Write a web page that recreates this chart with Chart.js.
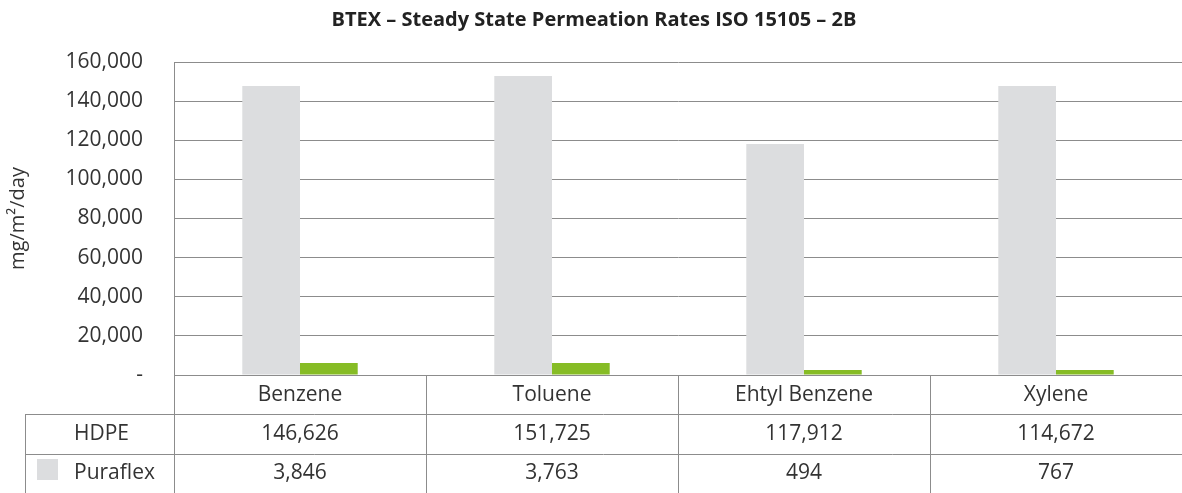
<!DOCTYPE html>
<html>
<head>
<meta charset="utf-8">
<script src="https://cdn.jsdelivr.net/npm/chart.js@4.4.0/dist/chart.umd.min.js"></script>
<style>
    html, body { margin: 0; padding: 0; background: #ffffff; }
    canvas { display: block; }
</style>
</head>
<body>
<canvas id="chart-btex" width="1182" height="493"></canvas>
<script>
// Datos
const categories     = ['Benzene', 'Toluene', 'Ehtyl Benzene', 'Xylene'];
const seriesNames    = ['HDPE', 'Puraflex'];
const hdpeValues     = [147700, 152800, 118100, 147700];
const puraflexValues = [6100, 6100, 2600, 2600];
// Textos de la tabla de datos (tal como aparecen impresos)
const hdpeTable      = ['146,626', '151,725', '117,912', '114,672'];
const puraflexTable  = ['3,846', '3,763', '494', '767'];
const yTickValues    = [0, 20000, 40000, 60000, 80000, 100000, 120000, 140000, 160000];

const GRID  = '#8c8c8c';
const TEXT  = '#333333';
const FONT  = '"Open Sans", sans-serif';

// Plugin inline: tabla de datos bajo el eje X
const dataTablePlugin = {
    id: 'dataTable',
    afterDraw(chart) {
        const { ctx, chartArea: a, scales: { x } } = chart;
        const colW = (a.right - a.left) / categories.length;
        const rowH = (chart.height - a.bottom) / 3;
        const tableLeft = 25;

        ctx.save();
        ctx.strokeStyle = GRID;
        ctx.lineWidth   = 1;
        ctx.beginPath();
        for (let i = 0; i < categories.length; i++) {
            const vx = Math.round(a.left + i * colW) + 0.5;
            ctx.moveTo(vx, a.bottom);
            ctx.lineTo(vx, chart.height);
        }
        ctx.moveTo(tableLeft + 0.5, Math.round(a.bottom + rowH));
        ctx.lineTo(tableLeft + 0.5, chart.height);
        [1, 2].forEach(r => {
            const hy = Math.round(a.bottom + r * rowH) + 0.5;
            ctx.moveTo(tableLeft, hy);
            ctx.lineTo(a.right, hy);
        });
        ctx.stroke();

        ctx.font         = '21px ' + FONT;
        ctx.fillStyle    = TEXT;
        ctx.textBaseline = 'middle';
        ctx.textAlign    = 'center';
        categories.forEach((c, i) => {
            const cx = x.getPixelForValue(i);
            ctx.fillText(c, cx, a.bottom + rowH * 0.5);
            ctx.fillText(hdpeTable[i], cx, a.bottom + rowH * 1.5);
            ctx.fillText(puraflexTable[i], cx, a.bottom + rowH * 2.5);
        });

        ctx.textAlign = 'left';
        ctx.fillText(seriesNames[0], 74, a.bottom + rowH * 1.5);
        ctx.fillText(seriesNames[1], 74, a.bottom + rowH * 2.5);

        // clave de leyenda (solo aparece en la fila Puraflex)
        ctx.fillStyle = '#dcdddf';
        ctx.fillRect(37, Math.round(a.bottom + rowH * 2) + 5, 21, 21);
        ctx.restore();
    }
};

new Chart(document.getElementById('chart-btex').getContext('2d'), {
    type: 'bar',
    plugins: [dataTablePlugin],
    data: {
        labels: categories,
        datasets: [
            { label: seriesNames[0], data: hdpeValues,     backgroundColor: '#dcdddf' },
            { label: seriesNames[1], data: puraflexValues, backgroundColor: '#86bc25' }
        ]
    },
    options: {
        responsive: false,
        animation:  false,
        layout: { padding: { left: 0, right: -6, top: 0, bottom: 118 } },
        datasets: { bar: { categoryPercentage: 0.458, barPercentage: 1.0 } },
        plugins: {
            legend:  { display: false },
            tooltip: { enabled: false },
            title: {
                display: true,
                text: 'BTEX – Steady State Permeation Rates ISO 15105 – 2B',
                color: '#222222',
                font: { family: FONT, size: 20, weight: 'bold' },
                padding: { top: 8, bottom: 30 }
            }
        },
        scales: {
            x: { display: false },
            y: {
                min: 0,
                max: 160000,
                afterFit(scale) { scale.width = 174; },
                afterBuildTicks(scale) { scale.ticks = yTickValues.map(v => ({ value: v })); },
                border: { display: true, color: GRID, width: 1 },
                grid:   { color: GRID, lineWidth: 1, drawTicks: false },
                ticks: {
                    padding: 31,
                    color: TEXT,
                    font: { family: FONT, size: 21 },
                    callback: v => v === 0 ? '-' : v.toLocaleString('en-US')
                },
                title: {
                    display: true,
                    text: 'mg/m²/day',
                    color: TEXT,
                    font: { family: FONT, size: 20 },
                    padding: { top: 6, bottom: 0 }
                }
            }
        }
    }
});
</script>
</body>
</html>
